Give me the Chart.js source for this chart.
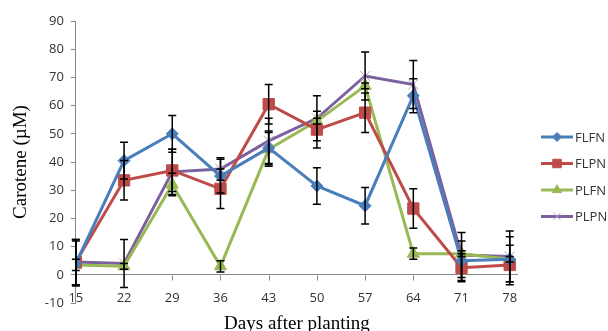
<!DOCTYPE html>
<html>
<head>
<meta charset="utf-8">
<script src="https://cdn.jsdelivr.net/npm/chart.js@4.4.0/dist/chart.umd.min.js"></script>
<style>
  html, body { margin: 0; padding: 0; background: #fff; }
  #wrap { width: 608px; height: 331px; }
</style>
</head>
<body>
<div id="wrap"><canvas id="myChart" width="608" height="331"></canvas></div>
<script>
// days after planting
var days = [15, 22, 29, 36, 43, 50, 57, 64, 71, 78];

// carotene means (uM)
var flfn = [4, 40.5, 50, 35, 45, 31.5, 24.5, 63.5, 5, 5.5];
var flpn = [4.5, 33.5, 37, 30.5, 60.5, 51.5, 57.5, 23.5, 2.5, 3.5];
var plfn = [3.5, 3, 32, 3, 44.5, 54.5, 67, 7.5, 7.5, 5.5];
var plpn = [4.5, 4, 36.5, 37.5, 47.5, 55.5, 70.5, 67.5, 7, 6.5];

// error bar half widths
var flfnErr = [8, 6.5, 6.5, 6, 6, 6.5, 6.5, 6, 7, 8];
var flpnErr = [8, 7, 7.5, 7, 7, 6.5, 7, 7, 5, 7];
var plfnErr = [2, 1, 4, 2, 6, 1, 1, 2, 1, 1];
var plpnErr = [8, 8.5, 8, 4, 8, 8, 8.5, 8.5, 8, 9];

var yTicks = [-10, 0, 10, 20, 30, 40, 50, 60, 70, 80, 90];

function pts(vals) {
    return vals.map(function (v, i) { return { x: days[i], y: v }; });
}

var axisGrey = '#868686';
var textGrey = '#333333';

// error bars, drawn on top of the lines
var errorBars = {
    id: 'errorBars',
    afterDatasetsDraw: function (chart) {
        var ctx = chart.ctx;
        var xs = chart.scales.x, ys = chart.scales.y;
        ctx.save();
        ctx.strokeStyle = '#000';
        ctx.lineWidth = 1.5;
        chart.data.datasets.forEach(function (ds) {
            ds.err.forEach(function (e, i) {
                var x = xs.getPixelForValue(days[i]);
                var y1 = ys.getPixelForValue(ds.data[i].y + e);
                var y2 = ys.getPixelForValue(ds.data[i].y - e);
                ctx.beginPath();
                ctx.moveTo(x, y1); ctx.lineTo(x, y2);
                ctx.moveTo(x - 4, y1); ctx.lineTo(x + 4, y1);
                ctx.moveTo(x - 4, y2); ctx.lineTo(x + 4, y2);
                ctx.stroke();
            });
        });
        ctx.restore();
    }
};

// x tick marks hang under the zero line
var zeroTicks = {
    id: 'zeroTicks',
    beforeDatasetsDraw: function (chart) {
        var ctx = chart.ctx;
        var xs = chart.scales.x, ys = chart.scales.y;
        var y0 = Math.round(ys.getPixelForValue(0)) + 0.5;
        ctx.save();
        ctx.strokeStyle = axisGrey;
        ctx.lineWidth = 1;
        ctx.beginPath();
        days.forEach(function (d) {
            var x = Math.round(xs.getPixelForValue(d)) + 0.5;
            ctx.moveTo(x, y0); ctx.lineTo(x, y0 + 5);
        });
        ctx.stroke();
        ctx.restore();
    }
};

// legend on the right, line + marker like the original
var sideLegend = {
    id: 'sideLegend',
    afterDraw: function (chart) {
        var ctx = chart.ctx;
        ctx.save();
        chart.data.datasets.forEach(function (ds, i) {
            var y = 137 + i * 26.5;
            ctx.strokeStyle = ds.borderColor;
            ctx.lineWidth = 3;
            ctx.beginPath();
            ctx.moveTo(541, y); ctx.lineTo(573, y);
            ctx.stroke();
            ctx.fillStyle = ds.pointBackgroundColor;
            ctx.strokeStyle = ds.pointBorderColor;
            ctx.lineWidth = ds.pointBorderWidth;
            Chart.helpers.drawPoint(ctx, {
                pointStyle: ds.pointStyle,
                radius: ds.pointRadius * 0.75,
                borderWidth: ds.pointBorderWidth,
                rotation: 0
            }, 557, y);
            ctx.fillStyle = textGrey;
            ctx.font = '13px "Open Sans", sans-serif';
            ctx.textBaseline = 'middle';
            ctx.textAlign = 'left';
            ctx.fillText(ds.label, 575, y + 1);
        });
        ctx.restore();
    }
};

function series(label, vals, err, color, style, radius, ptColor) {
    return {
        label: label,
        data: pts(vals),
        err: err,
        borderColor: color,
        backgroundColor: color,
        borderWidth: 3,
        pointStyle: style,
        pointRadius: radius,
        pointBackgroundColor: ptColor || color,
        pointBorderColor: ptColor || color,
        pointBorderWidth: 1,
        tension: 0
    };
}

var ctx = document.getElementById('myChart').getContext('2d');
var myChart = new Chart(ctx, {
    type: 'line',
    data: {
        datasets: [
            series('FLFN', flfn, flfnErr, '#4A7EBB', 'rectRot', 6),
            series('FLPN', flpn, flpnErr, '#BE4B48', 'rect', 8),
            series('PLFN', plfn, plfnErr, '#98B954', 'triangle', 7),
            series('PLPN', plpn, plpnErr, '#7D60A0', 'crossRot', 7, '#B3A2C7')
        ]
    },
    options: {
        responsive: false,
        animation: false,
        layout: { padding: { left: 10, right: 90, top: 21, bottom: -4 } },
        plugins: { legend: { display: false }, tooltip: { enabled: false } },
        scales: {
            x: {
                type: 'linear',
                min: 15,
                max: 79.2,
                afterBuildTicks: function (axis) {
                    axis.ticks = days.map(function (d) { return { value: d }; });
                },
                grid: { display: false, drawTicks: false },
                border: { display: false },
                ticks: {
                    mirror: true,
                    padding: -2.8,
                    color: textGrey,
                    font: { family: 'Open Sans', size: 13 },
                    maxRotation: 0,
                    autoSkip: false
                },
                title: {
                    display: true,
                    text: 'Days after planting',
                    color: '#000',
                    font: { family: 'Liberation Serif', size: 19 },
                    padding: { top: 14.8, bottom: 0 }
                }
            },
            y: {
                min: -10,
                max: 90,
                afterBuildTicks: function (axis) {
                    axis.ticks = yTicks.map(function (v) { return { value: v }; });
                },
                grid: {
                    drawTicks: true,
                    tickLength: 5,
                    tickColor: axisGrey,
                    color: function (c) {
                        return c.tick && c.tick.value === 0 ? axisGrey : 'rgba(0,0,0,0)';
                    }
                },
                border: { display: true, color: axisGrey },
                ticks: {
                    padding: 7,
                    color: textGrey,
                    font: { family: 'Open Sans', size: 13 }
                },
                title: {
                    display: true,
                    text: 'Carotene (\u00B5M)',
                    color: '#000',
                    font: { family: 'Liberation Serif', size: 19 },
                    padding: { top: 0, bottom: 5 }
                }
            }
        }
    },
    plugins: [zeroTicks, errorBars, sideLegend]
});
</script>
</body>
</html>
